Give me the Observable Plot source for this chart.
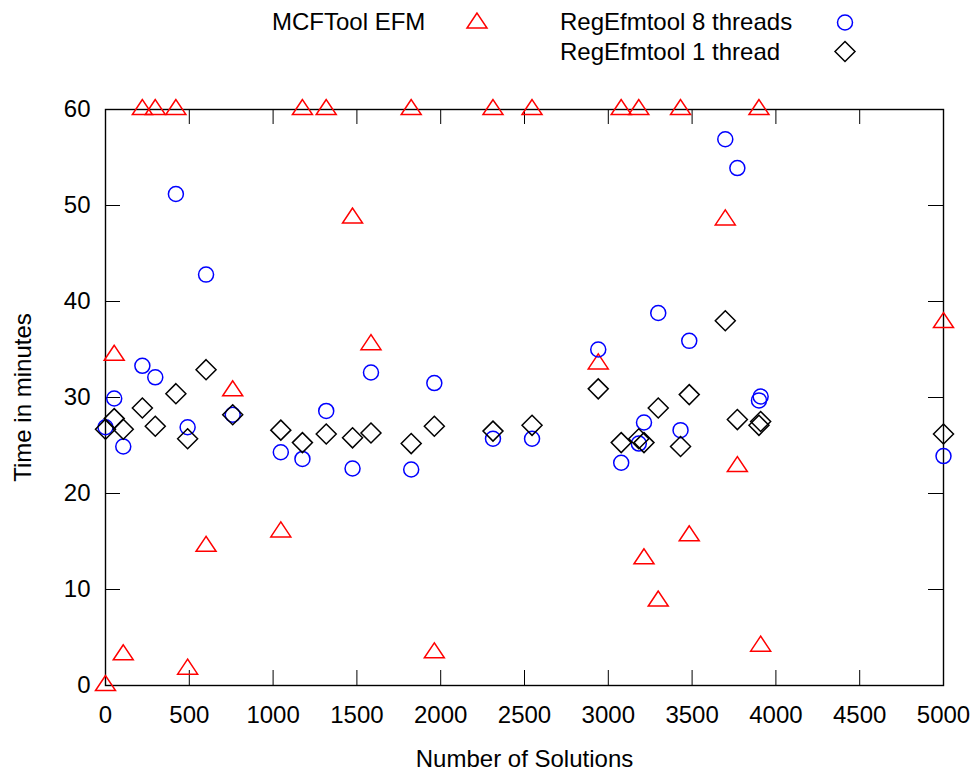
<!DOCTYPE html>
<html><head><meta charset="utf-8">
<script src="https://cdn.jsdelivr.net/npm/d3@7"></script>
<script src="https://cdn.jsdelivr.net/npm/@observablehq/plot@0.6"></script>
<style>html,body{margin:0;padding:0;background:#fff;overflow:hidden}#chart{width:974px;height:774px}</style>
</head><body><div id="chart"></div>
<script>
// ---- data ----
const solutions  = [0, 52, 106, 220, 297, 420, 490, 600, 759, 1046, 1175, 1317, 1474, 1584, 1824, 1962, 2312, 2545, 2940, 3077, 3182, 3213, 3298, 3431, 3483, 3698, 3770, 3899, 3909, 5000];
const mcfToolEfm = [0, 34.4, 3.2, 60, 60, 60, 1.7, 14.5, 30.7, 16.0, 60, 60, 48.7, 35.5, 60, 3.4, 60, 60, 33.5, 60, 60, 13.2, 8.8, 60, 15.6, 48.5, 22.8, 60, 4.1, 37.8];
const regEfm8    = [26.9, 29.9, 24.9, 33.3, 32.1, 51.2, 26.9, 42.8, 28.2, 24.3, 23.6, 28.6, 22.6, 32.6, 22.5, 31.5, 25.7, 25.7, 35.0, 23.2, 25.2, 27.4, 38.8, 26.6, 35.9, 56.9, 53.9, 29.7, 30.1, 23.9];
const regEfm1    = [26.7, 27.8, 26.7, 28.9, 27.0, 30.4, 25.7, 32.9, 28.2, 26.6, 25.3, 26.2, 25.8, 26.3, 25.2, 27.0, 26.5, 27.1, 30.9, 25.3, 25.7, 25.3, 28.9, 24.9, 30.3, 38.0, 27.7, 27.1, 27.5, 26.2];
const xTicks = [0, 500, 1000, 1500, 2000, 2500, 3000, 3500, 4000, 4500, 5000];
const yTicks = [0, 10, 20, 30, 40, 50, 60];
const seriesNames = ["MCFTool EFM", "RegEfmtool 8 threads", "RegEfmtool 1 thread"];
const seriesColors = ["#ff0000", "#0000ff", "#000000"];
const xTitle = "Number of Solutions";
const yTitle = "Time in minutes";

// ---- gnuplot-like point symbols ----
const triangle = {draw(c){ c.moveTo(0,-10); c.lineTo(-10,5); c.lineTo(10,5); c.closePath(); }};
const circle   = {draw(c){ c.moveTo(7.5,0); c.arc(0,0,7.5,0,2*Math.PI); c.closePath(); }};
const diamond  = {draw(c){ c.moveTo(0,-10); c.lineTo(10,0); c.lineTo(0,10); c.lineTo(-10,0); c.closePath(); }};
const symbols = [triangle, circle, diamond];

const rows = solutions.map((x, i) => ({x, mcf: mcfToolEfm[i], r8: regEfm8[i], r1: regEfm1[i]}));

const W = 974, H = 774, mL = 105, mR = 31, mT = 109, mB = 89;
const frameW = W - mL - mR, frameH = H - mT - mB, tickLen = 15;

const plot = Plot.plot({
  width: W, height: H,
  marginLeft: mL, marginRight: mR, marginTop: mT, marginBottom: mB,
  style: {fontFamily: "'Liberation Sans', Arial, sans-serif", fontSize: "24px", color: "#000", background: "#fff", overflow: "visible"},
  x: {domain: [0, 5000]},
  y: {domain: [0, 60]},
  marks: [
    Plot.tickX(xTicks, {x: d => d, insetTop: frameH - tickLen, stroke: "#000", strokeWidth: 1}),
    Plot.tickX(xTicks, {x: d => d, insetBottom: frameH - tickLen, stroke: "#000", strokeWidth: 1}),
    Plot.tickY(yTicks, {y: d => d, insetRight: frameW - tickLen, stroke: "#000", strokeWidth: 1}),
    Plot.tickY(yTicks, {y: d => d, insetLeft: frameW - tickLen, stroke: "#000", strokeWidth: 1}),
    Plot.frame({stroke: "#000", strokeWidth: 1.4}),
    Plot.axisX({ticks: xTicks, tickSize: 0, tickPadding: 20, tickFormat: d3.format("d"), label: null}),
    Plot.axisY({ticks: yTicks, tickSize: 0, tickPadding: 15, tickFormat: d3.format("d"), label: null}),
    Plot.text([xTitle], {text: d => d, frameAnchor: "bottom", textAnchor: "middle", dy: 81, fill: "#000"}),
    Plot.text([yTitle], {text: d => d, frameAnchor: "left", textAnchor: "middle", lineAnchor: "middle", rotate: -90, dx: -82, fill: "#000"}),
    Plot.dot(rows, {x: "x", y: "mcf", symbol: triangle, r: 5, stroke: seriesColors[0], strokeWidth: 1.5, fill: "none"}),
    Plot.dot(rows, {x: "x", y: "r8", symbol: circle, r: 5, stroke: seriesColors[1], strokeWidth: 1.5, fill: "none"}),
    Plot.dot(rows, {x: "x", y: "r1", symbol: diamond, r: 5, stroke: seriesColors[2], strokeWidth: 1.5, fill: "none"})
  ]
});
document.getElementById("chart").appendChild(plot);

// ---- legend (gnuplot key at the top) ----
const svg = d3.select(plot);
const legendPos = [
  {tx: 272, ty: 30, sx: 477, sy: 23},
  {tx: 560, ty: 30, sx: 845, sy: 22.5},
  {tx: 560, ty: 60, sx: 845, sy: 51.5}
];
const lg = svg.append("g").attr("class", "legend").attr("text-anchor", "start");
seriesNames.forEach((name, i) => {
  const p = legendPos[i];
  lg.append("text").attr("x", p.tx).attr("y", p.ty).attr("fill", "#000").attr("text-anchor", "start")
    .style("font-family", "'Liberation Sans', Arial, sans-serif").style("font-size", "24px").text(name);
  const path = d3.path(); symbols[i].draw(path);
  lg.append("path").attr("d", path.toString()).attr("transform", `translate(${p.sx},${p.sy})`)
    .attr("fill", "none").attr("stroke", seriesColors[i]).attr("stroke-width", 1.5);
});
</script>
</body></html>
